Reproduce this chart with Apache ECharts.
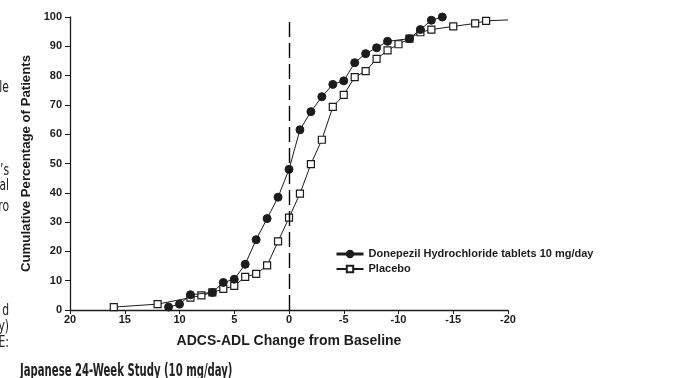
<!DOCTYPE html>
<html>
<head>
<meta charset="utf-8">
<script src="https://cdn.jsdelivr.net/npm/echarts@6/dist/echarts.min.js"></script>
<style>
  html, body { margin: 0; padding: 0; background: #fff; }
  #main { width: 687px; height: 378px; }
</style>
</head>
<body>
<div id="main"></div>
<script>
// ADCS-ADL change (positive = worse), cumulative % of patients
var donepezilX = [11, 10, 9, 7, 6, 5, 4, 3, 2, 1, 0, -1, -2, -3, -4, -5, -6, -7, -8, -9, -11, -12, -13, -14];
var donepezilY = [1, 2, 5.2, 6, 9.4, 10.5, 15.6, 24, 31.2, 38.5, 48, 61.5, 67.7, 72.8, 77, 78.2, 84.4, 87.5, 89.5, 91.7, 92.6, 95.7, 98.9, 100];

var placeboX = [16, 12, 9, 8, 7, 6, 5, 4, 3, 2, 1, 0, -1, -2, -3, -4, -5, -6, -7, -8, -9, -10, -11, -12, -13, -15, -17, -18, -20];
var placeboY = [1, 2, 4.2, 5, 6, 7.2, 8.2, 11.3, 12.3, 15.2, 23.4, 31.5, 39.7, 49.8, 58.1, 69.3, 73.4, 79.5, 81.5, 85.7, 88.6, 90.7, 92.6, 94.8, 95.7, 96.8, 97.8, 98.7, 99];

var seriesNames = ['Donepezil Hydrochloride tablets 10 mg/day', 'Placebo'];

// clipped text from the neighbouring page column
var sideText = [
  { t: 'le', y: 88 },
  { t: '\u2019s', y: 171 },
  { t: 'al', y: 186 },
  { t: 'ro', y: 207 },
  { t: 'd', y: 311 },
  { t: 'y)', y: 327 },
  { t: 'E:', y: 343 }
];

var ink = '#1c1c1c';
var narrow = '"DejaVu Sans Condensed", "Liberation Sans Narrow", sans-serif';

function pairs(xs, ys) {
  return xs.map(function (x, i) { return [x, ys[i]]; });
}

var placeboData = pairs(placeboX, placeboY);
// last point is only the line's tail, no marker
placeboData[placeboData.length - 1] = { value: placeboData[placeboData.length - 1], symbol: 'none' };

var graphics = sideText.map(function (s) {
  return {
    type: 'text', x: 9, y: s.y, scaleX: 0.8,
    style: {
      text: s.t, align: 'right', verticalAlign: 'middle',
      font: '15px ' + narrow,
      fill: '#222'
    }
  };
});
graphics.push({
  type: 'text', x: 20, y: 363, scaleX: 0.66,
  style: {
    text: 'Japanese 24-Week Study (10 mg/day)',
    verticalAlign: 'top',
    font: 'bold 17px ' + narrow,
    fill: '#222'
  }
});

var chart = echarts.init(document.getElementById('main'));
var option = {
  animation: false,
  backgroundColor: '#fff',
  textStyle: { fontFamily: '"Liberation Sans", Arial, sans-serif' },
  grid: { left: 70, right: 179, top: 17, bottom: 68, containLabel: false },
  legend: {
    orient: 'vertical',
    left: 335,
    top: 248,
    padding: 0,
    itemWidth: 27,
    itemHeight: 8,
    itemGap: 3,
    textStyle: { fontSize: 11, fontWeight: 'bold', color: ink, lineHeight: 12 },
    data: [
      { name: seriesNames[0], lineStyle: { width: 3 } },
      { name: seriesNames[1] }
    ]
  },
  xAxis: {
    type: 'value',
    min: -20,
    max: 20,
    interval: 5,
    inverse: true,
    name: 'ADCS-ADL Change from Baseline',
    nameLocation: 'middle',
    nameGap: 24,
    nameTextStyle: { fontSize: 14, fontWeight: 'bold', color: ink },
    axisLine: { onZero: false, lineStyle: { color: ink, width: 1.3 } },
    axisTick: { show: true, length: 4, lineStyle: { color: ink } },
    axisLabel: { fontSize: 11, fontWeight: 'bold', color: ink, margin: 4 },
    splitLine: { show: false }
  },
  yAxis: {
    type: 'value',
    min: 0,
    max: 100,
    interval: 10,
    name: 'Cumulative Percentage of Patients',
    nameLocation: 'middle',
    nameGap: 35,
    nameTextStyle: { fontSize: 13.2, fontWeight: 'bold', color: ink },
    axisLine: { show: true, onZero: false, lineStyle: { color: ink, width: 1.3 } },
    axisTick: { show: true, length: 5, lineStyle: { color: ink } },
    axisLabel: { fontSize: 11, fontWeight: 'bold', color: ink, margin: 8 },
    splitLine: { show: false }
  },
  series: [
    {
      name: seriesNames[0],
      type: 'line',
      data: pairs(donepezilX, donepezilY),
      symbol: 'circle',
      symbolSize: 8,
      lineStyle: { color: ink, width: 1 },
      itemStyle: { color: ink, borderColor: ink, borderWidth: 1 },
      z: 3,
      markLine: {
        silent: true,
        symbol: 'none',
        label: { show: false },
        lineStyle: { color: '#000', width: 1.4, type: [15, 6] },
        emphasis: { disabled: true },
        data: [{ xAxis: 0 }]
      }
    },
    {
      name: seriesNames[1],
      type: 'line',
      data: placeboData,
      symbol: 'rect',
      symbolSize: 7,
      lineStyle: { color: ink, width: 1 },
      itemStyle: { color: '#fff', borderColor: ink, borderWidth: 1.2 },
      z: 2
    }
  ],
  graphic: graphics
};
chart.setOption(option);
</script>
</body>
</html>
